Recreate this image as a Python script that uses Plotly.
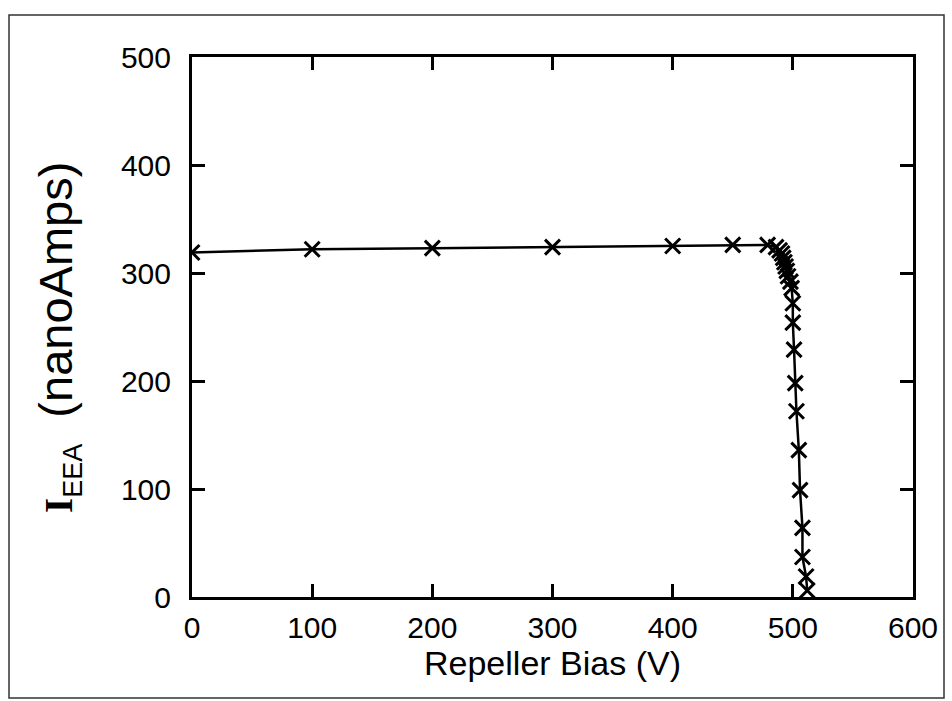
import plotly.graph_objects as go

# Data
bias_v = [0, 100, 200, 300, 400, 450, 479, 486, 489, 491, 492, 493, 494, 495,
          496, 498, 499, 500, 500, 501, 502, 503, 505, 506, 508, 508, 511, 512]
current_na = [319, 322, 323, 324, 325, 326, 326, 324, 321, 318, 314, 310, 306, 302,
              297, 292, 286, 272, 254, 229, 198, 172, 136, 99, 64, 37, 19, 6]

x_ticks = [0, 100, 200, 300, 400, 500, 600]
y_ticks = [0, 100, 200, 300, 400, 500]

W, H = 952, 701
L, R, T, B = 192, 39, 57, 104
pw, ph = W - L - R, H - T - B

fig = go.Figure()
fig.add_trace(go.Scatter(
    x=bias_v, y=current_na, mode="lines+markers",
    line=dict(color="black", width=2.5),
    marker=dict(symbol="x-thin-open", size=15, line=dict(color="black", width=3)),
    showlegend=False,
))

font = "Liberation Sans, Arial, sans-serif"
axis_common = dict(
    showline=True, linecolor="black", linewidth=3, mirror="ticks",
    ticks="inside", ticklen=13, tickwidth=2.5, tickcolor="black",
    showgrid=False, zeroline=False,
    tickfont=dict(family=font, size=30, color="black"),
)

fig.update_xaxes(range=[0, 600], tickvals=x_ticks, ticklabelstandoff=2,
                 title=dict(text="Repeller Bias (V)", font=dict(family=font, size=34, color="black"), standoff=4),
                 **axis_common)
fig.update_yaxes(range=[0, 500], tickvals=y_ticks, ticklabelstandoff=12, **axis_common)

fig.add_annotation(
    xref="paper", yref="paper",
    x=(58 - L) / pw, y=(597 - 338) / ph,
    text=("<span style=\"font-family:'Liberation Serif';font-size:39px;font-weight:bold;fill:black\">I</span>"
          "<sub><span style=\"font-size:27px;fill:black\">EEA</span></sub>  (nanoAmps)"),
    textangle=-90, showarrow=False,
    font=dict(family=font, size=47, color="black"),
    xanchor="center", yanchor="middle",
)

# outer frame of the figure
fig.add_shape(type="rect", xref="paper", yref="paper",
              x0=(9 - L) / pw, x1=(944 - L) / pw,
              y0=(597 - 698) / ph, y1=(597 - 15) / ph,
              line=dict(color="#333333", width=1.5))

fig.update_layout(
    width=W, height=H,
    margin=dict(l=L, r=R, t=T, b=B),
    paper_bgcolor="white", plot_bgcolor="white",
)

fig.write_html("out.html")
